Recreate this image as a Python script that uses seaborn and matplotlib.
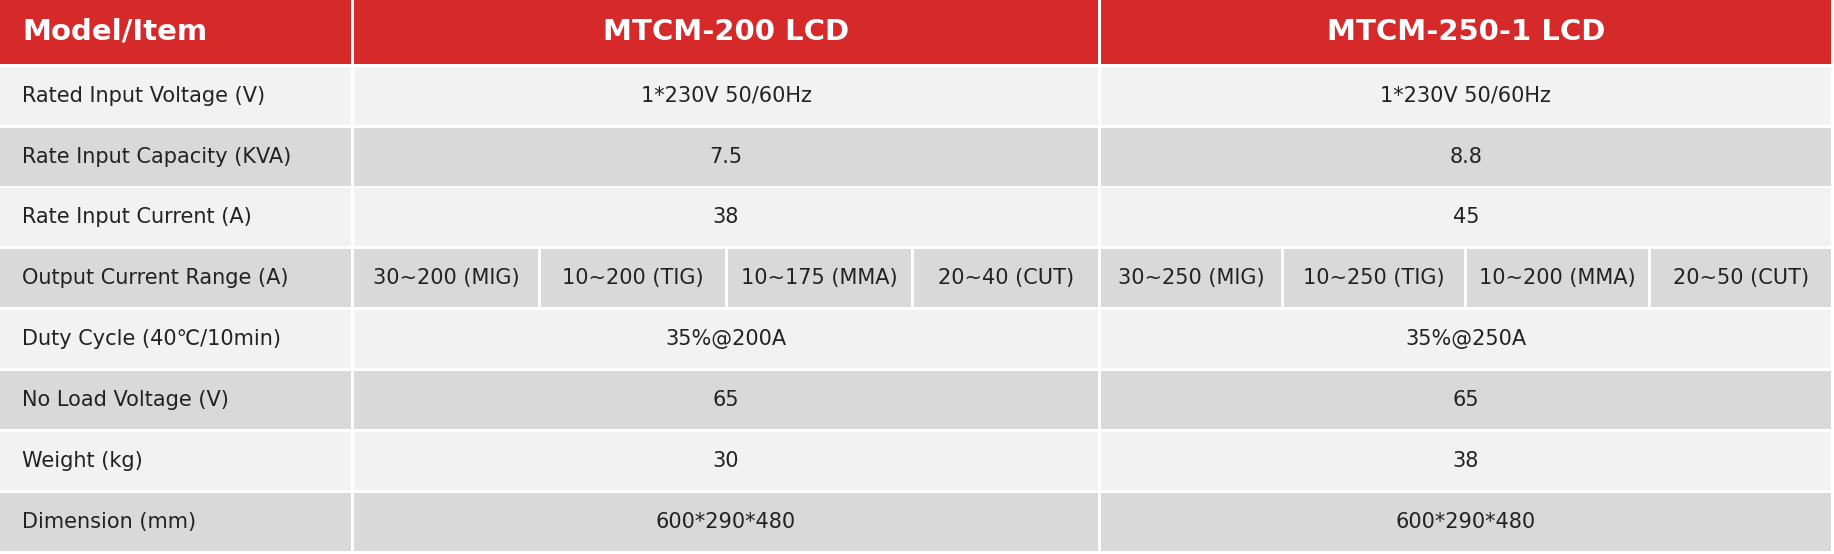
import matplotlib
matplotlib.use("Agg")
import matplotlib.pyplot as plt
import seaborn as sns
from matplotlib.patches import Rectangle

header = ["Model/Item", "MTCM-200 LCD", "MTCM-250-1 LCD"]
items = ["Rated Input Voltage (V)", "Rate Input Capacity (KVA)", "Rate Input Current (A)",
         "Output Current Range (A)", "Duty Cycle (40\u2103/10min)", "No Load Voltage (V)",
         "Weight (kg)", "Dimension (mm)"]
model_a = ["1*230V 50/60Hz", "7.5", "38", None, "35%@200A", "65", "30", "600*290*480"]
model_b = ["1*230V 50/60Hz", "8.8", "45", None, "35%@250A", "65", "38", "600*290*480"]
range_a = ["30~200 (MIG)", "10~200 (TIG)", "10~175 (MMA)", "20~40 (CUT)"]
range_b = ["30~250 (MIG)", "10~250 (TIG)", "10~200 (MMA)", "20~50 (CUT)"]

sns.set_theme(style="white")
plt.rcParams['font.family'] = ['Liberation Sans Narrow', 'DejaVu Sans']

W, H = 1568, 474
col_x = [0, 303, 941, W]
head_h = 57
row_h = (H - head_h) / len(items)
gap = 2.5
red = "#d62a2a"
light = "#f2f2f2"
dark = "#d9d9d9"

fig = plt.figure(figsize=(18.34, 5.54), dpi=100)
ax = fig.add_axes([0, 0, 1, 1])
ax.set_xlim(0, W)
ax.set_ylim(H, 0)
ax.axis("off")


def cell(x0, x1, y0, y1, bg, text, left=False, **kw):
    ax.add_patch(Rectangle((x0, y0), x1 - x0 - gap, y1 - y0 - gap, color=bg, lw=0))
    xt = 19 if left else (x0 + x1 - gap) / 2
    ha = "left" if left else "center"
    ax.text(xt, (y0 + y1 - gap) / 2, text, ha=ha, va="center", **kw)


for j, h in enumerate(header):
    cell(col_x[j], col_x[j + 1], 0, head_h, red, h, left=(j == 0), color="white",
         fontsize=21, fontweight="bold")

for i, name in enumerate(items):
    y0 = head_h + i * row_h
    y1 = y0 + row_h
    bg = light if i % 2 == 0 else dark
    cell(0, col_x[1], y0, y1, bg, name, left=True, color="#222222", fontsize=15)
    for k, (vals, rng) in enumerate([(model_a, range_a), (model_b, range_b)]):
        x0, x1 = col_x[k + 1], col_x[k + 2]
        if vals[i] is None:
            sw = (x1 - x0) / len(rng)
            for m, r in enumerate(rng):
                cell(x0 + m * sw, x0 + (m + 1) * sw, y0, y1, bg, r, color="#222222", fontsize=15)
        else:
            cell(x0, x1, y0, y1, bg, vals[i], color="#222222", fontsize=15)

fig.savefig("out.png", dpi=100)
